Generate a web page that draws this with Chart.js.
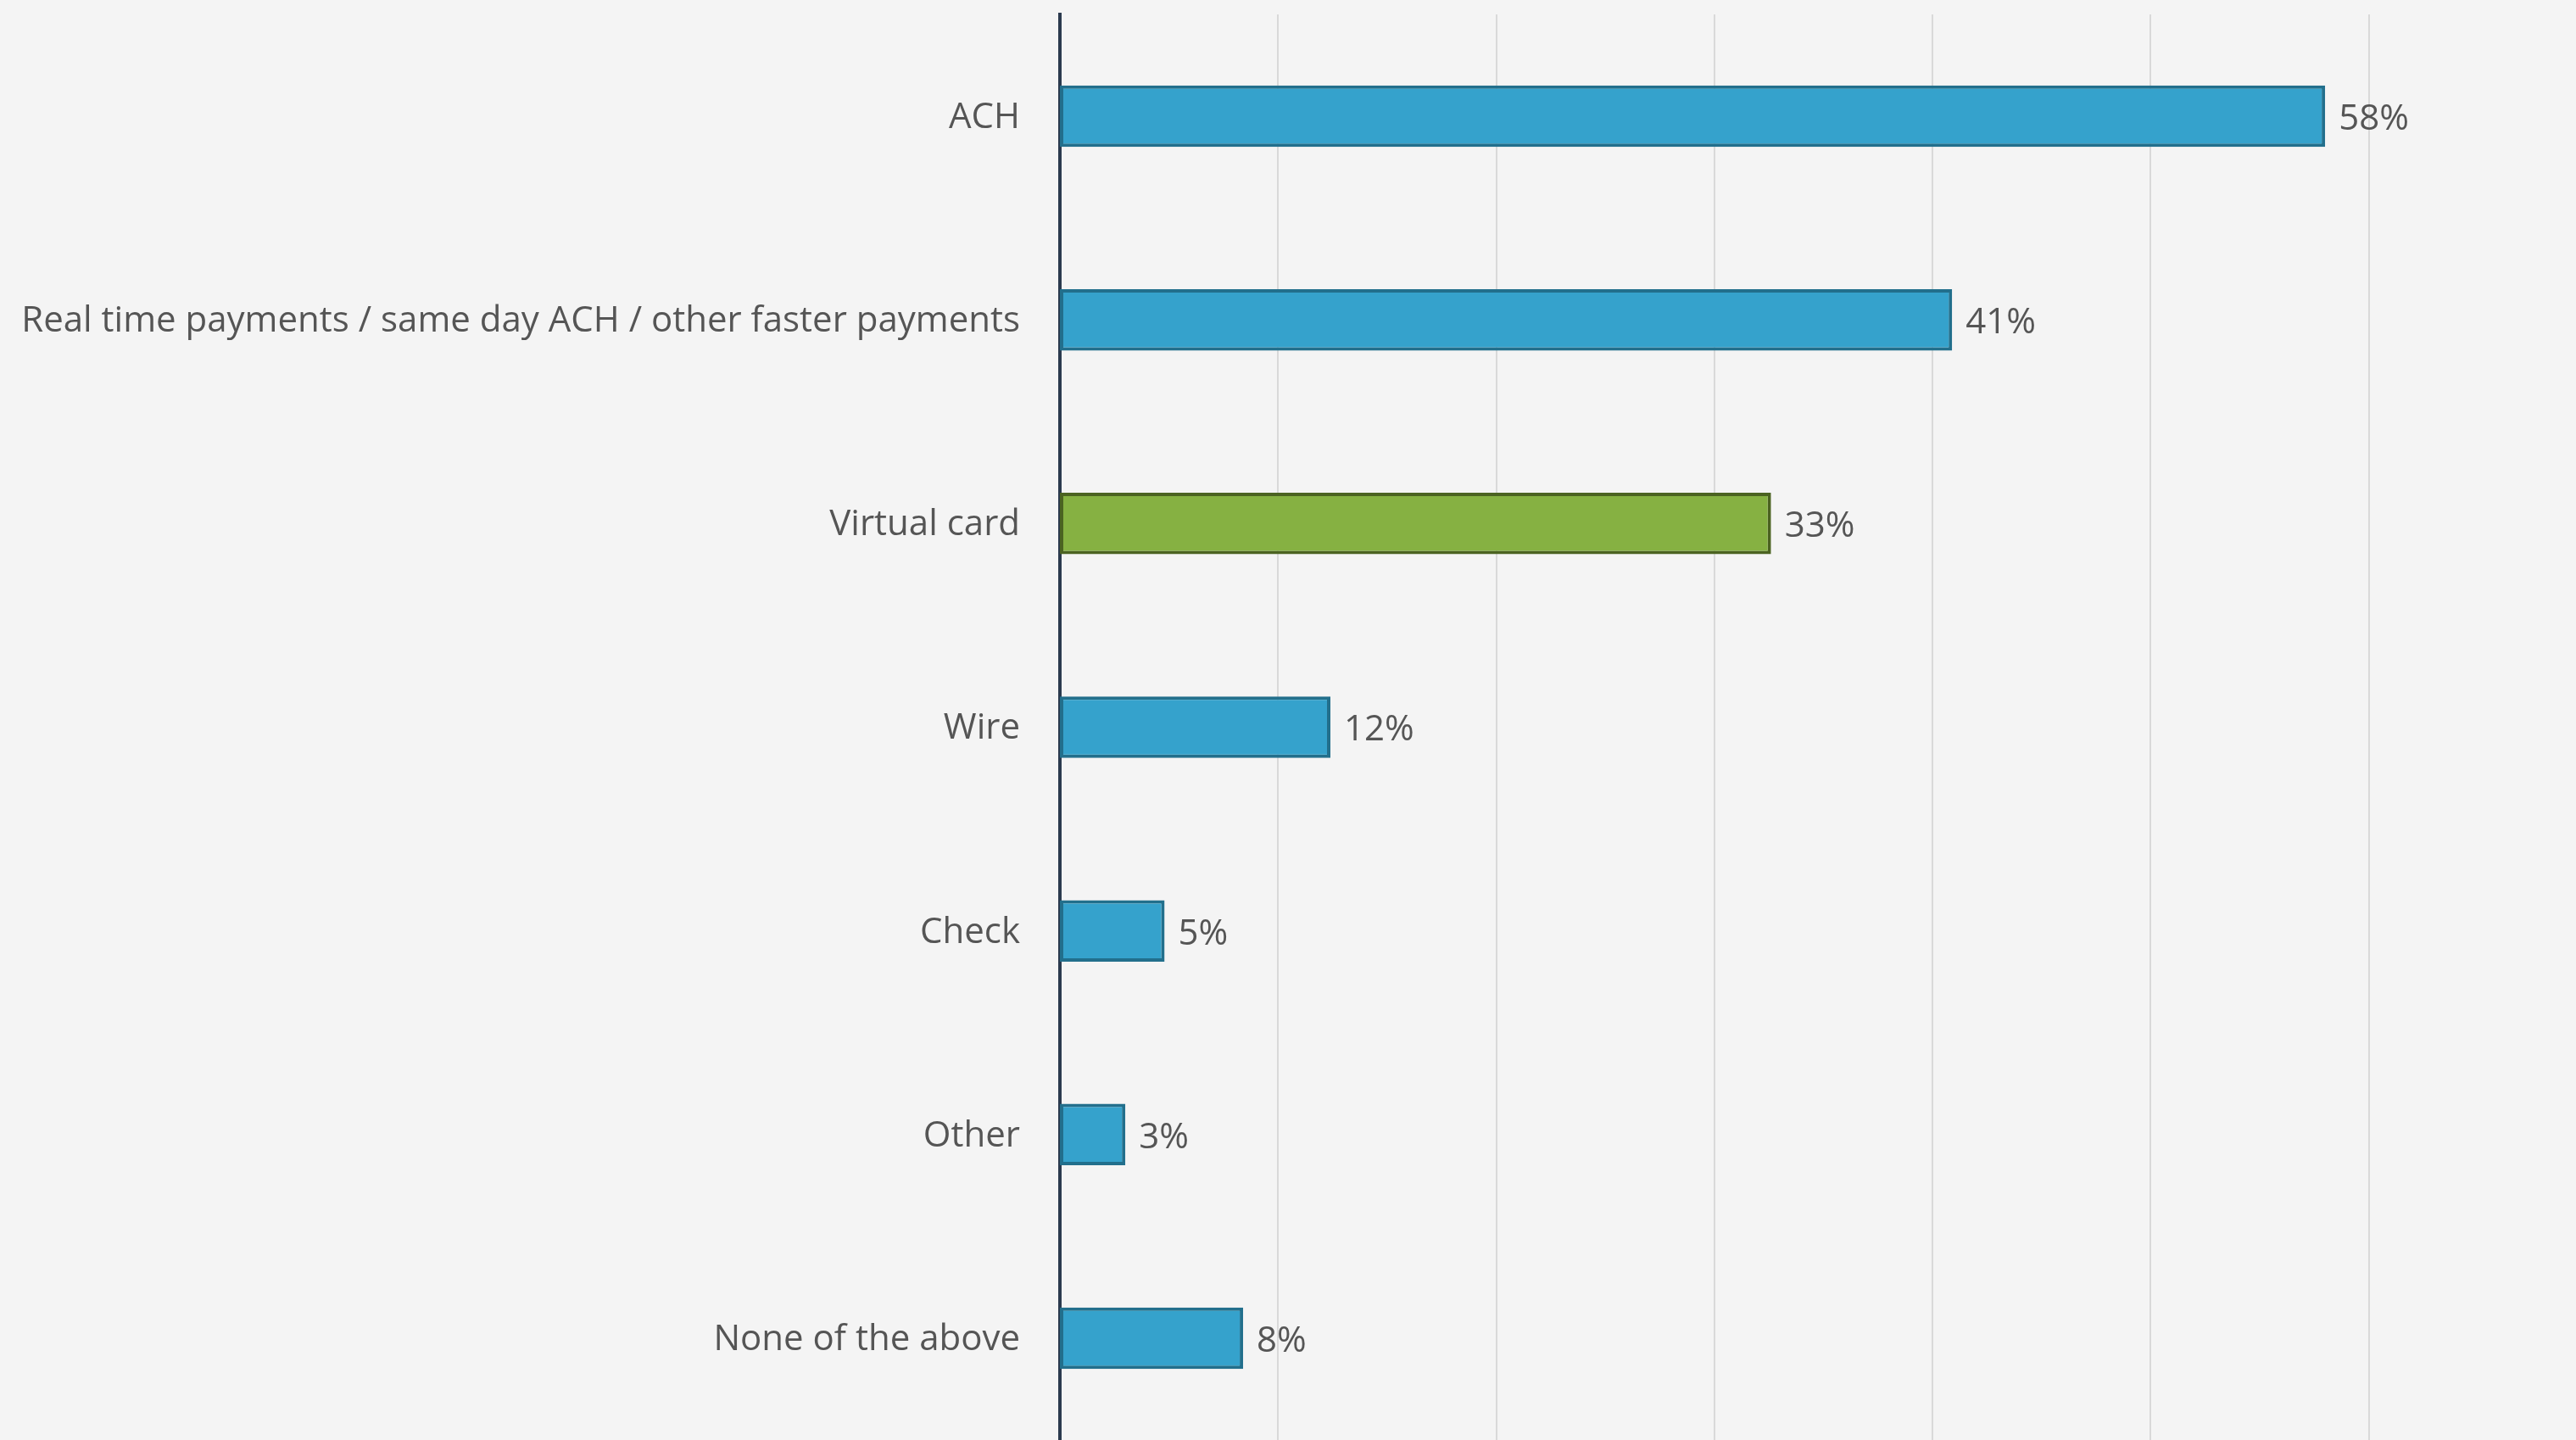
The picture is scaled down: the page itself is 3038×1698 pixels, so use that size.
<!DOCTYPE html>
<html>
<head>
<meta charset="utf-8">
<script src="https://cdn.jsdelivr.net/npm/chart.js@4"></script>
<style>
    body { margin: 0; background: #f4f4f4; overflow: hidden; }
    #wrap { width: 3038px; height: 1698px; }
</style>
</head>
<body>
<div id="wrap"><canvas id="myChart"></canvas></div>
<script>
let categories = [
    'ACH',
    'Real time payments / same day ACH / other faster payments',
    'Virtual card',
    'Wire',
    'Check',
    'Other',
    'None of the above'
]
let shares = [58.0, 40.9, 32.6, 12.4, 4.8, 3.0, 8.4]
let highlighted = 'Virtual card'

let blue = '#35a2cc'
let blueEdge = '#226f8c'
let green = '#86b142'
let greenEdge = '#4b6321'

// value labels at the end of each bar
let barLabels = {
    id: 'barLabels',
    afterDatasetsDraw(chart) {
        let ctx = chart.ctx
        let meta = chart.getDatasetMeta(0)
        ctx.save()
        ctx.font = '42px "Open Sans"'
        ctx.fillStyle = '#555555'
        ctx.textAlign = 'left'
        ctx.textBaseline = 'middle'
        meta.data.forEach((bar, i) => {
            ctx.fillText(Math.round(shares[i]) + '%', bar.x + 16, bar.y + 4)
        })
        ctx.restore()
    }
}

function draw() {
    var ctx = document.getElementById('myChart').getContext('2d');
    var myChart = new Chart(ctx, {
        type: 'bar',
        data: {
            labels: categories,
            datasets: [{
                data: shares,
                backgroundColor: (c) => categories[c.dataIndex] === highlighted ? green : blue,
                borderColor: (c) => categories[c.dataIndex] === highlighted ? greenEdge : blueEdge,
                borderWidth: 4,
                borderSkipped: false,
                barPercentage: 0.302,
                categoryPercentage: 1
            }]
        },
        options: {
            indexAxis: 'y',
            responsive: true,
            maintainAspectRatio: false,
            animation: false,
            layout: { padding: { top: 17, left: 0, right: 0, bottom: 0 } },
            plugins: {
                legend: { display: false },
                tooltip: { enabled: false }
            },
            scales: {
                x: {
                    min: 0,
                    max: 69.5,
                    afterBuildTicks: (scale) => {
                        scale.ticks = [10, 20, 30, 40, 50, 60].map(v => ({ value: v }))
                    },
                    afterFit: (scale) => {
                        scale.height = 0
                        scale.paddingLeft = 0
                        scale.paddingRight = 0
                    },
                    ticks: { display: false },
                    border: { display: false },
                    grid: { color: '#d9d9d9', lineWidth: 2, drawTicks: false }
                },
                y: {
                    afterFit: (scale) => {
                        scale.width = 1250
                        scale.paddingTop = 0
                        scale.paddingBottom = 0
                    },
                    ticks: {
                        padding: 47,
                        labelOffset: 2,
                        color: '#555555',
                        font: { family: 'Open Sans', size: 42 }
                    },
                    grid: { display: false, drawTicks: false },
                    border: { display: true, color: '#2b3a4e', width: 4 }
                }
            }
        },
        plugins: [barLabels]
    });
}

document.fonts.load('42px "Open Sans"').then(draw, draw)
</script>
</body>
</html>
